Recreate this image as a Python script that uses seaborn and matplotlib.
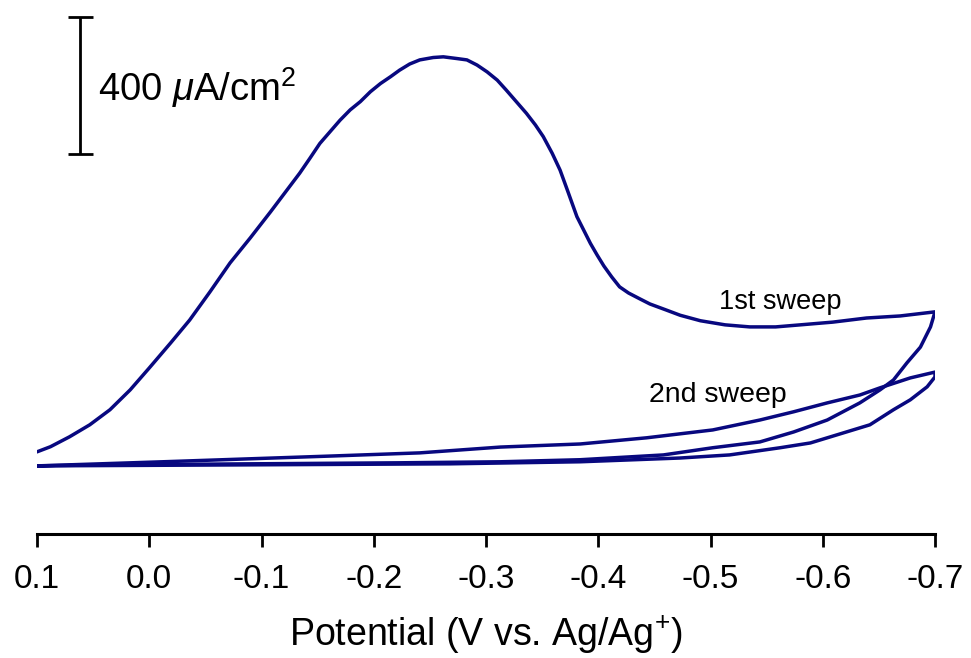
import numpy as np
import pandas as pd
import matplotlib
matplotlib.use("Agg")
import matplotlib.pyplot as plt
import seaborn as sns

# Cyclic voltammetry data: potential (V vs. Ag/Ag+) and current density (uA/cm^2)
sweep1_fwd_potential = [0.100, 0.088, 0.071, 0.053, 0.035, 0.017, 0.000, -0.019, -0.036,
                        -0.054, -0.072, -0.090, -0.108, -0.134, -0.143, -0.152,
                        -0.161, -0.170, -0.179, -0.188, -0.197, -0.206, -0.215, -0.223,
                        -0.232, -0.241, -0.253, -0.262, -0.274, -0.283, -0.292, -0.301,
                        -0.310, -0.318, -0.327, -0.336, -0.344, -0.351, -0.359, -0.366,
                        -0.373, -0.381, -0.387, -0.393, -0.399, -0.405, -0.412, -0.419,
                        -0.427, -0.437, -0.446, -0.460, -0.473, -0.491, -0.513, -0.535,
                        -0.558, -0.580, -0.609, -0.639, -0.669, -0.700]
sweep1_fwd_current = [41, 56, 85, 120, 164, 222, 286, 359, 426,
                      508, 593, 666, 742, 855, 898, 942,
                      976, 1010, 1040, 1064, 1093, 1117, 1137, 1156,
                      1174, 1186, 1193, 1195, 1190, 1186, 1171, 1151,
                      1127, 1098, 1064, 1030, 996, 962, 913, 864,
                      801, 728, 689, 650, 616, 584, 552, 523,
                      505, 488, 473, 456, 440, 424, 412, 406,
                      406, 412, 420, 432, 438, 450]

sweep1_rev_potential = [-0.696, -0.687, -0.675, -0.663, -0.651, -0.633, -0.604, -0.574,
                        -0.544, -0.502, -0.458, -0.384, -0.313, -0.223, -0.090, 0.044, 0.100]
sweep1_rev_current = [406, 347, 301, 251, 222, 184, 134, 99, 70, 53, 32, 18, 12, 9, 6, 3, 0]

sweep2_fwd_potential = [0.100, -0.012, -0.164, -0.241, -0.313, -0.384, -0.443, -0.502,
                        -0.544, -0.574, -0.604, -0.633, -0.651, -0.678, -0.700]
sweep2_fwd_current = [0, 12, 29, 38, 55, 64, 82, 105, 134, 158, 184, 207, 228, 257, 274]

sweep2_rev_potential = [-0.700, -0.693, -0.678, -0.663, -0.642, -0.618, -0.589, -0.562,
                        -0.517, -0.473, -0.384, -0.268, -0.090, 0.100]
sweep2_rev_current = [260, 231, 193, 164, 120, 96, 67, 53, 32, 23, 12, 6, 3, 0]

tick_values = [0.1, 0.0, -0.1, -0.2, -0.3, -0.4, -0.5, -0.6, -0.7]
tick_labels = ["0.1", "0.0", "-0.1", "-0.2", "-0.3", "-0.4", "-0.5", "-0.6", "-0.7"]

scale_bar_value = 400  # uA/cm^2

df = pd.concat([
    pd.DataFrame({"potential": sweep1_fwd_potential + sweep1_rev_potential,
                  "current": sweep1_fwd_current + sweep1_rev_current,
                  "sweep": "1st sweep"}),
    pd.DataFrame({"potential": sweep2_fwd_potential + sweep2_rev_potential,
                  "current": sweep2_fwd_current + sweep2_rev_current,
                  "sweep": "2nd sweep"}),
], ignore_index=True)

sns.set_theme(style="white")
plt.rcParams["font.family"] = ["Liberation Sans", "DejaVu Sans"]
plt.rcParams["mathtext.fontset"] = "custom"
plt.rcParams["mathtext.rm"] = "Liberation Sans"
plt.rcParams["mathtext.it"] = "Liberation Sans:italic"

line_color = "#08087f"

fig = plt.figure(figsize=(9.71, 6.58), dpi=100)
ax = fig.add_axes([37 / 971, 124 / 658, 898 / 971, 534 / 658])

for name, grp in df.groupby("sweep"):
    sns.lineplot(data=grp, x="potential", y="current", sort=False, estimator=None,
                 color=line_color, linewidth=2.5, ax=ax, legend=False)

ax.set_xlim(0.1, -0.7)
ax.set_ylim(-199, 1361)

ax.set_xticks(tick_values)
ax.set_xticklabels(tick_labels)
ax.tick_params(axis="x", direction="out", length=9.5, width=2.0, pad=12,
               labelsize=24, colors="black", bottom=True)
ax.set_yticks([])
ax.set_ylabel("")
ax.set_xlabel("Potential (V vs. Ag/Ag$^{+}$)", fontsize=27, labelpad=14, color="black")

for side in ["left", "right", "top"]:
    ax.spines[side].set_visible(False)
ax.spines["bottom"].set_linewidth(2.2)
ax.spines["bottom"].set_color("black")

# Vertical scale bar for current density
bar_x = 0.0617
bar_center = 1111
ax.errorbar([bar_x], [bar_center], yerr=[[scale_bar_value / 2], [scale_bar_value / 2]],
            fmt="none", ecolor="black", elinewidth=2.0, capsize=9, capthick=2.0)
ax.text(0.0457, 1104, r"400 $\mu$A/cm$^2$", fontsize=27.5, ha="left", va="center",
        color="black")

ax.text(-0.562, 479, "1st sweep", fontsize=19.5, ha="center", va="center", color="black")
ax.text(-0.507, 207, "2nd sweep", fontsize=20.5, ha="center", va="center", color="black")

fig.savefig("out.png", dpi=100)
